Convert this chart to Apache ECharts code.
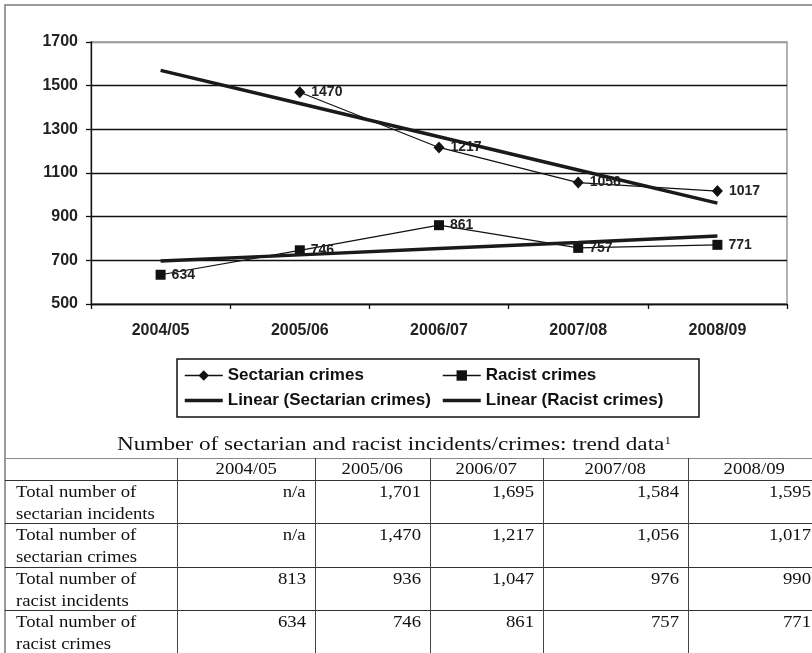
<!DOCTYPE html>
<html>
<head>
<meta charset="utf-8">
<script src="https://cdn.jsdelivr.net/npm/echarts@6/dist/echarts.min.js"></script>
<style>
  html, body { margin: 0; padding: 0; background: #fff; }
  #wrap { position: relative; width: 812px; height: 653px; overflow: hidden; }
  #chart { position: absolute; left: 0; top: 0; width: 812px; height: 653px; }
  #table { position: absolute; left: 0; top: 0; width: 812px; height: 653px; pointer-events: none;
           font-family: "Liberation Serif", "Times New Roman", serif; color: #111; }
  .hl { position: absolute; height: 1px; background: #333; }
  .vl { position: absolute; width: 1px; background: #444; }
  .cell { position: absolute; font-size: 16px; line-height: 22px; white-space: pre-line; }
  .cell span { display: inline-block; }
  #title { position: absolute; font-size: 18px; line-height: 20px; white-space: nowrap; }
  #title sup { font-size: 10px; vertical-align: 6px; line-height: 0; }
</style>
</head>
<body>
<div id="wrap">
  <div id="chart"></div>
  <div id="table"></div>
</div>
<script>
// ---- data ----
const categories = ['2004/05', '2005/06', '2006/07', '2007/08', '2008/09'];
const sectarianCrimes = [null, 1470, 1217, 1056, 1017];
const racistCrimes = [634, 746, 861, 757, 771];
const sectarianTrend = [1570, 1418, 1266, 1114, 962];
const racistTrend = [697, 725, 754, 782, 811];
const seriesNames = ['Sectarian crimes', 'Racist crimes', 'Linear (Sectarian crimes)', 'Linear (Racist crimes)'];

const tableTitle = 'Number of sectarian and racist incidents/crimes: trend data';
const tableHeader = ['', '2004/05', '2005/06', '2006/07', '2007/08', '2008/09'];
const rowLabels = ['Total number of\nsectarian incidents', 'Total number of\nsectarian crimes', 'Total number of\nracist incidents', 'Total number of\nracist crimes'];
const sectarianIncidentsRow = ['n/a', '1,701', '1,695', '1,584', '1,595'];
const sectarianCrimesRow = ['n/a', '1,470', '1,217', '1,056', '1,017'];
const racistIncidentsRow = ['813', '936', '1,047', '976', '990'];
const racistCrimesRow = ['634', '746', '861', '757', '771'];

// ---- chart ----
const FONT = '"Liberation Sans", Arial, Helvetica, sans-serif';
const chart = echarts.init(document.getElementById('chart'), null, { renderer: 'canvas' });
const labelStyle = { show: true, position: 'right', distance: 6, fontFamily: FONT, fontWeight: 'bold', fontSize: 14, color: '#222' };
const legendText = { fontFamily: FONT, fontWeight: 'bold', fontSize: 17, color: '#111', lineHeight: 17 };

chart.setOption({
  animation: false,
  backgroundColor: '#fff',
  graphic: [
    { type: 'rect', shape: { x: 5, y: 5, width: 840, height: 720 }, style: { fill: 'none', stroke: '#7a7a7a', lineWidth: 1.5 }, z: 1 },
    { type: 'rect', shape: { x: 177, y: 359, width: 522, height: 58 }, style: { fill: 'none', stroke: '#111', lineWidth: 1.5 }, z: 1 }
  ],
  grid: { left: 91, right: 25, top: 42, height: 262, show: true, borderColor: '#999', borderWidth: 1.5, backgroundColor: 'transparent' },
  legend: [
    {
      orient: 'vertical', left: 183, top: 367, padding: 0, itemWidth: 38, itemHeight: 13, itemGap: 8,
      data: [
        { name: seriesNames[0], lineStyle: { width: 1.5 } },
        { name: seriesNames[2], lineStyle: { width: 3.5 }, itemStyle: { opacity: 0, borderWidth: 0 } }
      ],
      textStyle: legendText
    },
    {
      orient: 'vertical', left: 441, top: 367, padding: 0, itemWidth: 38, itemHeight: 13, itemGap: 8,
      data: [
        { name: seriesNames[1], lineStyle: { width: 1.5 } },
        { name: seriesNames[3], lineStyle: { width: 3.5 }, itemStyle: { opacity: 0, borderWidth: 0 } }
      ],
      textStyle: legendText
    }
  ],
  xAxis: {
    type: 'category', data: categories, boundaryGap: true,
    axisLine: { lineStyle: { color: '#111', width: 1.3 } },
    axisTick: { show: true, length: 5, alignWithLabel: false, lineStyle: { color: '#111', width: 1.3 } },
    axisLabel: { fontFamily: FONT, fontWeight: 'bold', fontSize: 16, color: '#222', margin: 19 },
    splitLine: { show: false }
  },
  yAxis: {
    type: 'value', min: 500, max: 1700, interval: 200,
    axisLine: { show: true, lineStyle: { color: '#111', width: 1.3 } },
    axisTick: { show: true, length: 5, lineStyle: { color: '#111', width: 1.3 } },
    axisLabel: { fontFamily: FONT, fontWeight: 'bold', fontSize: 16, color: '#222', margin: 13, formatter: v => String(v) },
    splitLine: { show: true, lineStyle: { color: ['#111', '#111', '#111', '#111', '#111', '#111', '#999'], width: 1.3 } }
  },
  series: [
    {
      name: seriesNames[0], type: 'line', data: sectarianCrimes, connectNulls: false,
      symbol: 'diamond', symbolSize: [11, 12], showAllSymbol: true,
      itemStyle: { color: '#111' }, lineStyle: { color: '#111', width: 1.2 },
      label: labelStyle, z: 3
    },
    {
      name: seriesNames[1], type: 'line', data: racistCrimes,
      symbol: 'rect', symbolSize: 10, showAllSymbol: true,
      itemStyle: { color: '#111' }, lineStyle: { color: '#111', width: 1.2 },
      label: labelStyle, z: 3
    },
    {
      name: seriesNames[2], type: 'line', data: sectarianTrend, symbol: 'none',
      itemStyle: { color: '#1a1a1a' }, lineStyle: { color: '#1a1a1a', width: 3.5 }, z: 4
    },
    {
      name: seriesNames[3], type: 'line', data: racistTrend, symbol: 'none',
      itemStyle: { color: '#1a1a1a' }, lineStyle: { color: '#1a1a1a', width: 3.5 }, z: 4
    }
  ]
});

// ---- table (HTML) ----
const T = document.getElementById('table');
const SX = 1.17;
const colX = [5, 177, 315, 430, 543, 688, 820];
const rowY = [458, 480, 523, 567, 610, 653];
function add(html) { T.insertAdjacentHTML('beforeend', html); }

// title
add('<div id="title" style="left:117px;top:434px;transform-origin:left top;transform:scaleX(1.29)">' + tableTitle + '<sup>1</sup></div>');

// horizontal lines
rowY.forEach((y, i) => {
  add('<div class="hl" style="left:5px;width:815px;top:' + y + 'px;background:' + (i === 0 ? '#8a8a8a' : '#333') + '"></div>');
});
// vertical lines
colX.slice(1, 6).forEach(x => {
  add('<div class="vl" style="left:' + x + 'px;top:458px;height:200px"></div>');
});
// header
tableHeader.forEach((t, c) => {
  if (!t) return;
  add('<div class="cell" style="left:' + colX[c] + 'px;width:' + (colX[c + 1] - colX[c]) + 'px;top:' + rowY[0] + 'px;text-align:center">' +
      '<span style="transform-origin:center;transform:scaleX(' + SX + ')">' + t + '</span></div>');
});
const bodyRows = [sectarianIncidentsRow, sectarianCrimesRow, racistIncidentsRow, racistCrimesRow];
bodyRows.forEach((vals, r) => {
  const top = rowY[r + 1] + 1;
  add('<div class="cell" style="left:16px;width:160px;top:' + top + 'px;text-align:left">' +
      '<span style="transform-origin:left;transform:scaleX(' + SX + ')">' + rowLabels[r] + '</span></div>');
  vals.forEach((v, k) => {
    const c = k + 1;
    const right = colX[c + 1] - 9;
    add('<div class="cell" style="left:' + (colX[c]) + 'px;width:' + (right - colX[c]) + 'px;top:' + top + 'px;text-align:right">' +
        '<span style="transform-origin:right;transform:scaleX(' + SX + ')">' + v + '</span></div>');
  });
});
</script>
</body>
</html>
